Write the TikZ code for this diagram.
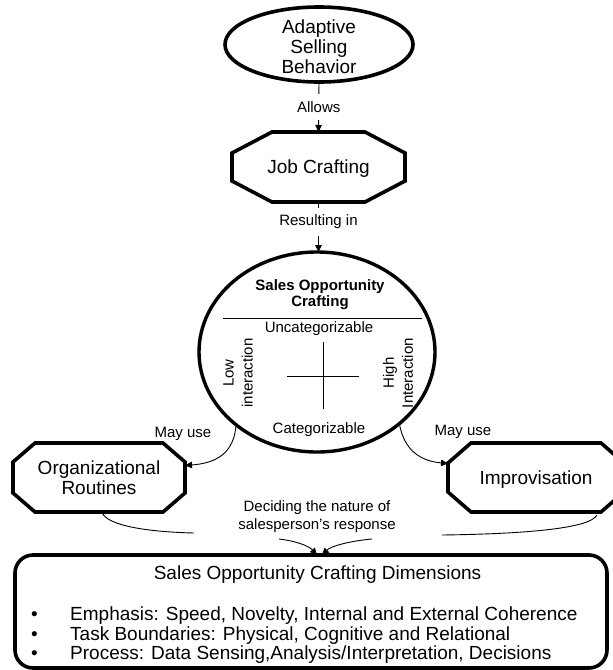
\documentclass[tikz,border=0pt]{standalone}
\usepackage{fontspec}
\setmainfont{Liberation Sans}
\usetikzlibrary{shapes.geometric,arrows.meta,calc}
\newcommand\fbig{\fontsize{19}{20}\selectfont}
\newcommand\fsmall{\fontsize{15}{16}\selectfont}
\newcommand\octagonal[3]{%
  \draw[thickline] ([xshift=#2]#1.north west) -- ([xshift=-#2]#1.north east) --
    ([yshift=-#3]#1.north east) -- ([yshift=#3]#1.south east) --
    ([xshift=-#2]#1.south east) -- ([xshift=#2]#1.south west) --
    ([yshift=#3]#1.south west) -- ([yshift=-#3]#1.north west) -- cycle;}
\tikzset{
  thickline/.style={line width=3.6pt, line join=miter},
  conn/.style={line width=0.9pt},
  arr/.style={-{Triangle[length=7pt,width=6.5pt]}},
  boxnode/.style={rectangle, inner sep=0pt, outer sep=0pt, align=center, font=\fbig},
  lbl/.style={font=\fsmall, fill=white, inner xsep=2pt, inner ysep=7pt},
  thin rule/.style={line width=1pt},
}
\begin{document}
\begin{tikzpicture}[x=1pt,y=-1pt]
\useasboundingbox (0,0) rectangle (613,670);

% Adaptive Selling Behavior
\node[ellipse, draw, thickline, minimum width=188pt, minimum height=75pt, inner sep=0pt, outer sep=0pt,
  label={[font=\fbig, align=center, yshift=-2.5pt]center:Adaptive\\Selling\\Behavior}] (asb) at (319,44.5) {};

% Job Crafting
\node[boxnode, text depth=0pt, minimum width=173pt, minimum height=70pt] (jc) at (318.5,167) {Job Crafting};
\octagonal{jc}{40pt}{21pt}

% Sales Opportunity Crafting circle
\node[ellipse, draw, line width=3.4pt, minimum width=236pt, minimum height=200pt, inner sep=0pt, outer sep=0pt] (soc) at (317,352) {};
\node[font={\fsmall\bfseries}, align=center] (soct) at (320,295) {Sales Opportunity\\Crafting};
\coordinate (rl) at (223,318);
\coordinate (rr) at (422,318);
\draw[thin rule] (rl) -- (rr);
\node[font=\fsmall] (unc) at (319,329) {Uncategorizable};
\node[font=\fsmall] (cat) at (319,430) {Categorizable};
\coordinate (ch1) at (287,376);
\coordinate (ch2) at (359,376);
\coordinate (cv1) at (323,342);
\coordinate (cv2) at (323,409);
\draw[thin rule] (ch1) -- (ch2) (cv1) -- (cv2);
\node[font={\fontsize{15}{19}\selectfont}, align=center, rotate=90] (low) at (238,373) {Low\\interaction};
\node[font={\fontsize{15}{19}\selectfont}, align=center, rotate=90] (high) at (398,373) {High\\Interaction};

% Organizational Routines and Improvisation
\node[boxnode, minimum width=172pt, minimum height=69pt] (org) at (99,477.5) {Organizational\\Routines};
\octagonal{org}{22pt}{19pt}
\node[boxnode, text depth=0pt, minimum width=176pt, minimum height=69pt] (imp) at (536,477.5) {Improvisation};
\octagonal{imp}{23pt}{20pt}

% Bottom box
\node[draw, thickline, rounded corners=18pt, minimum width=592pt, minimum height=113pt, inner sep=0pt, outer sep=0pt] (sod) at (311,611.5) {};
\node[font=\fbig] (sodt) at (317.5,575) {Sales Opportunity Crafting Dimensions};
\node[font={\fontsize{19}{19.5}\selectfont}, anchor=west, align=left, inner sep=0pt] (sodl) at (31,635.5)
  {\makebox[39pt][l]{•}Emphasis: Speed, Novelty, Internal and External Coherence\\
   \makebox[39pt][l]{•}Task Boundaries: Physical, Cognitive and Relational\\
   \makebox[39pt][l]{•}Process: Data Sensing,Analysis/Interpretation, Decisions};

% Connectors
\draw[conn, arr] (asb.south) -- node[lbl, pos=0.5] (allows) {Allows} (jc.north);
\draw[conn, arr] (jc.south) -- node[lbl, pos=0.4] (res) {Resulting in} (jc.south |- soc.north);

\node[font=\fsmall] (mayl) at (183,434) {May use};
\draw[conn, arr] (soc.222) .. controls (234,452) and (218,463) .. ([yshift=12pt]org.east);
\node[font=\fsmall] (mayr) at (463,432) {May use};
\draw[conn, arr] (soc.319) .. controls (404,450) and (420,461) .. ([yshift=14pt]imp.west);

\node[font={\fontsize{15}{18}\selectfont}, align=center] (dec) at (317,517) {Deciding the nature of\\salesperson’s response};
\coordinate (la) at (194,533);
\coordinate (lb) at (279,539);
\coordinate (ra) at (442,535);
\coordinate (rb) at (372,539);
\draw[conn] ([xshift=3pt]org.south) .. controls (106,526) and (150,532) .. (la);
\draw[conn, arr] (lb) .. controls (296,541) and (309,546) .. ([xshift=6pt]sod.north);
\draw[conn] ([xshift=61pt,yshift=-3pt]imp.south) .. controls (590,529) and (520,534) .. (ra);
\draw[conn, arr] (rb) .. controls (350,541) and (331,546) .. ([xshift=11pt]sod.north);
\end{tikzpicture}
\end{document}
